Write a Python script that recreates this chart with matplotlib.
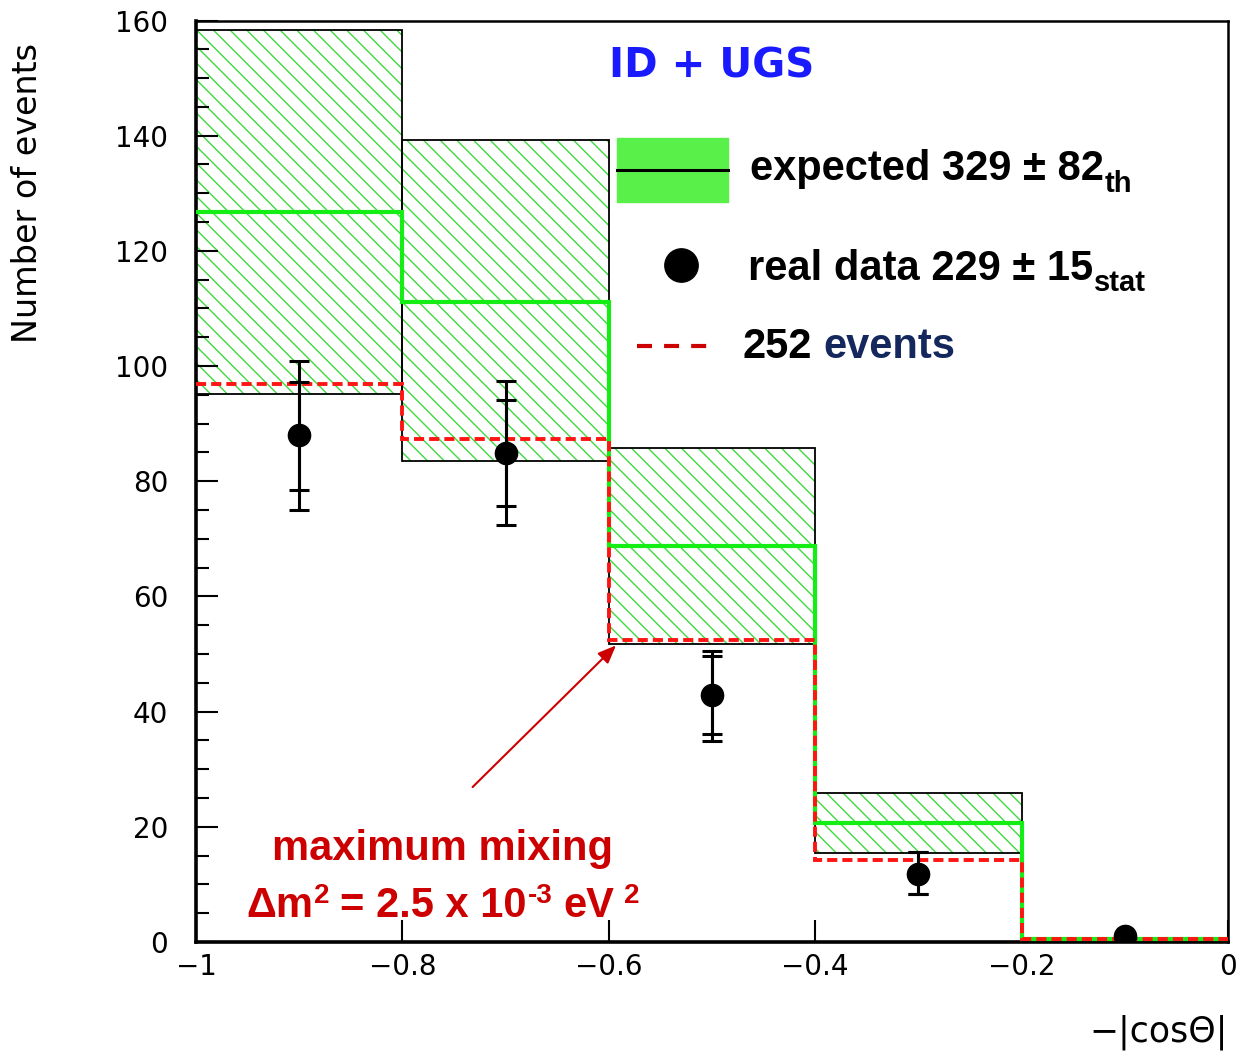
import matplotlib
matplotlib.use("Agg")
import numpy as np
import matplotlib.pyplot as plt
from matplotlib.transforms import IdentityTransform
from matplotlib.patches import Rectangle
from matplotlib.lines import Line2D

# ---------------- data ----------------
bin_edges = [-1.0, -0.8, -0.6, -0.4, -0.2, 0.0]
expected = [126.7, 111.1, 68.7, 20.7, 0.6]          # no-oscillation expectation
band_low = [95.2, 83.5, 51.7, 15.5, 0.45]           # theory error band
band_high = [158.4, 139.3, 85.7, 25.9, 0.75]
oscillated = [96.8, 87.4, 52.5, 14.2, 0.6]          # max mixing, dm2=2.5e-3 (252 events)
data_x = [-0.9, -0.7, -0.5, -0.3, -0.1]
data_y = [88.0, 84.9, 42.9, 11.8, 1.0]
data_in_lo = [78.4, 75.7, 36.2, 8.3, 1.0]
data_in_hi = [97.2, 94.1, 49.6, 15.7, 1.0]
data_out_lo = [75.0, 72.4, 34.9, 8.3, 1.0]
data_out_hi = [100.8, 97.4, 50.6, 15.7, 1.0]
xtick_vals = [-1.0, -0.8, -0.6, -0.4, -0.2, 0.0]
xtick_labels = ["\u22121", "\u22120.8", "\u22120.6", "\u22120.4", "\u22120.2", "0"]
ytick_vals = [0, 20, 40, 60, 80, 100, 120, 140, 160]

# ---------------- figure ----------------
W, H = 1246, 1051
plt.rcParams["hatch.linewidth"] = 1.0
fig = plt.figure(figsize=(W / 100, H / 100), dpi=100)
ax = fig.add_axes([196 / W, (H - 942) / H, (1228 - 196) / W, (942 - 20.5) / H])

edges = np.array(bin_edges)
centers = 0.5 * (edges[:-1] + edges[1:])
widths = np.diff(edges)
lo = np.array(band_low)
hi = np.array(band_high)

hatch_green = "#3fd83f"
line_green = "#14ee14"

ax.bar(centers, hi - lo, bottom=lo, width=widths, color="none",
       edgecolor=hatch_green, hatch="\\\\", linewidth=0, zorder=1)
ax.bar(centers, hi - lo, bottom=lo, width=widths, fill=False,
       edgecolor="black", linewidth=1.3, zorder=2)

ax.stairs(expected, edges, baseline=None, color=line_green, linewidth=3.0, zorder=3)
ax.stairs(oscillated, edges, baseline=None, color="#ff1414", linewidth=2.8,
          linestyle=(0, (2.6, 1.3)), zorder=4)

dy = np.array(data_y)
ax.errorbar(data_x, dy, yerr=[dy - np.array(data_out_lo), np.array(data_out_hi) - dy],
            fmt="none", ecolor="black", elinewidth=2.2, capsize=7, capthick=2.2, zorder=5)
ax.errorbar(data_x, dy, yerr=[dy - np.array(data_in_lo), np.array(data_in_hi) - dy],
            fmt="o", color="black", ms=16, elinewidth=2.2, capsize=7, capthick=2.2, zorder=6)

ax.set_xlim(-1, 0)
ax.set_ylim(0, 160)
ax.set_xticks(xtick_vals)
ax.set_xticklabels(xtick_labels)
ax.set_yticks(ytick_vals)
ax.set_yticks(np.arange(0, 161, 5), minor=True)
ax.tick_params(axis="both", which="major", direction="in", length=16, width=1.5,
               labelsize=20, top=False, right=False)
ax.tick_params(axis="y", which="minor", direction="in", length=9, width=1.5, right=False)
ax.tick_params(axis="y", which="major", pad=20)
ax.tick_params(axis="x", which="major", pad=8)
for lab in ax.get_xticklabels() + ax.get_yticklabels():
    lab.set_family("DejaVu Sans")
for s in ["left", "bottom"]:
    ax.spines[s].set_linewidth(2.6)
for s in ["top", "right"]:
    ax.spines[s].set_linewidth(1.8)

# axis titles
fig.text(28 / W, 1 - 193 / H, "Number of events", rotation=90, ha="center", va="center",
         fontsize=24, family="DejaVu Sans")
fig.text(1228 / W, 1 - 1032 / H, "\u2212|cos\u0398|", ha="right", va="center",
         fontsize=25, family="DejaVu Sans")

# title text
fig.text(712 / W, 1 - 66 / H, "ID + UGS", ha="center", va="center", fontsize=29,
         fontweight="bold", color="#1a1aff", family="DejaVu Sans")

# ---------------- legend (manual) ----------------
T = IdentityTransform()
fig.add_artist(Rectangle((617, H - 202), 111, 64, transform=T, color="#59f04a"))
fig.add_artist(Line2D([617, 728], [H - 170, H - 170], transform=T, color="black", lw=2.2))
fig.add_artist(Line2D([681], [H - 265], transform=T, marker="o", ms=24, color="black", lw=0))
fig.add_artist(Line2D([637, 707], [H - 346, H - 346], transform=T, color="#cc0000", lw=3,
                      dashes=(3.6, 2.9)))

fig.canvas.draw()
renderer = fig.canvas.get_renderer()
FONT = "Liberation Sans"


def draw_runs(x, y, parts):
    """parts: (text, size, baseline shift in px (positive = down), color, gap before px)."""
    for s, size, shift, color, gap in parts:
        x += gap
        t = fig.text(x, H - (y + shift), s, transform=T, fontsize=size, color=color,
                     fontweight="bold", family=FONT, ha="left", va="baseline")
        x = t.get_window_extent(renderer).x1


draw_runs(750, 180, [("expected 329 \u00b1 82", 30, 0, "black", 0),
                     ("th", 21, 12, "black", 1)])
draw_runs(748, 280, [("real data 229 \u00b1 15", 30, 0, "black", 0),
                     ("stat", 21, 11, "black", 1)])
draw_runs(743, 358, [("252", 30, 0, "black", 0),
                     ("events", 30, 0, "#14285e", 11)])

# ---------------- annotation ----------------
red = "#cc0000"
fig.text(442 / W, 1 - 860 / H, "maximum mixing", ha="center", va="baseline",
         fontsize=30, fontweight="bold", color=red, family=FONT)
draw_runs(246, 917, [("\u0394m", 30, 0, red, 0),
                     ("2", 20, -14, red, 1),
                     ("= 2.5 x 10", 30, 0, red, 11),
                     ("-3", 20, -14, red, 1),
                     ("eV", 30, 0, red, 11),
                     ("2", 20, -14, red, 9)])
ax.annotate("", xy=(-0.593, 51.5), xytext=(-0.732, 26.9),
            arrowprops=dict(arrowstyle="-|>,head_length=1.1,head_width=0.45",
                            color=red, lw=1.5, shrinkA=0, shrinkB=0))

fig.savefig("out.png", dpi=100)
